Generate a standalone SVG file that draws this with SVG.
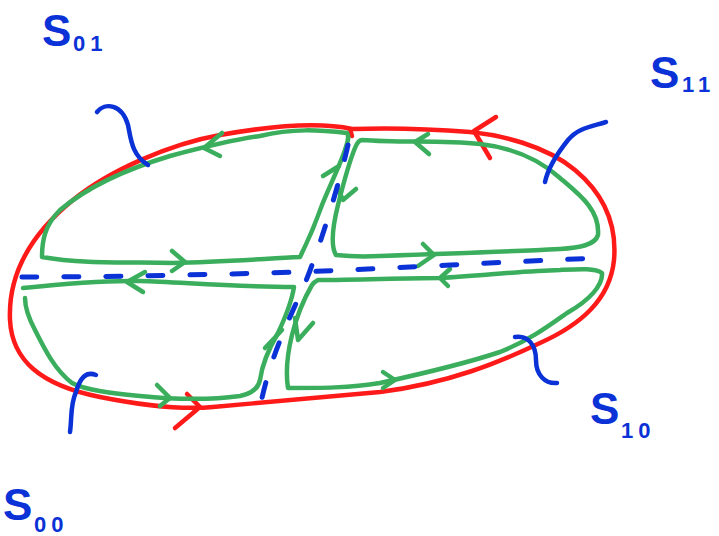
<svg xmlns="http://www.w3.org/2000/svg" width="719" height="536" viewBox="0 0 719 536">
<style>
.red{fill:none;stroke:#ff1a1a;stroke-width:4.5;stroke-linecap:round;stroke-linejoin:round}
.grn{fill:none;stroke:#3aae5c;stroke-width:4.5;stroke-linecap:round;stroke-linejoin:round}
.blu{fill:none;stroke:#0a32d6;stroke-width:4.5;stroke-linecap:round;stroke-linejoin:round}
.dash{fill:none;stroke:#0a32d6;stroke-width:5;stroke-linecap:round;stroke-dasharray:15 27}
.big{font-family:"Liberation Sans",Arial,sans-serif;font-size:44px;font-weight:bold;fill:#0a32d6}
.sub{font-family:"Liberation Sans",Arial,sans-serif;font-size:22px;font-weight:bold;fill:#0a32d6;letter-spacing:5px}
</style>
<rect width="719" height="536" fill="#ffffff"/>
<g id="boundary">
<path class="red" d="M352,129 C320,122 270,126 220,135 C170,144 110,170 73,200 C30,235 8,275 10,320 C12,360 40,385 100,397 C140,405 180,410 213,407 C270,402 330,396 380,392 C450,383 500,362 540,343 C580,325 610,300 614,260 C617,225 605,195 575,170 C545,145 500,135 470,132 C420,128 380,128 352,129 Z"/>
<path class="red" d="M350,129 L352,136"/>
<polyline class="red" points="496,117 474,131 490,158"/>
<polyline class="red" points="187,394 200,407 175,428"/>
</g>
<g id="region-s01">
<path class="grn" d="M347,133 C320,130 293,128 260,136 C230,140 200,148 170,156 C130,168 90,185 60,210 C45,225 42,240 42,257 C80,264 130,262 173,263 C220,262 260,259 300,257 C306,245 315,225 322,205 C330,185 340,165 345,150 C347,143 350,137 347,133"/>
<polyline class="grn" points="222,133 204,148 220,156"/>
<polyline class="grn" points="172,251 185,262 172,271"/>
<polyline class="grn" points="323,176 339,166"/>
</g>
<g id="region-s11">
<path class="grn" d="M362,140 C400,143 440,140 480,144 C515,148 540,160 560,178 C580,195 600,210 598,235 C595,245 580,248 560,249 C500,252 440,254 380,256 C360,257 345,256 336,255 C330,245 333,225 338,205 C343,185 350,160 355,148 C357,143 359,140 362,140"/>
<polyline class="grn" points="428,134 415,142 429,154"/>
<polyline class="grn" points="423,244 434,255 418,266"/>
<polyline class="grn" points="337,187 343,200 356,189"/>
</g>
<g id="region-s00">
<path class="grn" d="M23,288 C60,284 100,280 140,281 C180,282 230,287 294,287 C292,300 285,318 278,333 C268,350 262,365 260,380 C258,390 250,394 240,396 C210,400 180,400 140,396 C110,393 85,390 72,383 C55,370 45,350 35,330 C27,315 25,305 25,298"/>
<polyline class="grn" points="145,272 127,282 143,292"/>
<polyline class="grn" points="157,385 170,398 160,406"/>
<polyline class="grn" points="265,348 282,330"/>
</g>
<g id="region-s10">
<path class="grn" d="M318,280 C360,280 400,278 440,278 C480,276 520,271 560,270 C580,269 595,268 602,273 C603,285 590,300 567,313 C550,325 530,340 500,352 C470,362 430,372 380,383 C350,388 320,388 288,388 C286,375 287,355 292,335 C297,315 305,297 312,285 C314,282 316,281 318,280"/>
<polyline class="grn" points="450,269 440,278 448,286"/>
<polyline class="grn" points="383,372 395,380 383,388"/>
<polyline class="grn" points="295,318 298,340 313,323"/>
</g>
<g id="connectors">
<path class="dash" d="M22,277 C100,277 200,275 300,272 C400,268 500,262 600,258"/>
<path class="dash" d="M348,145 C340,180 325,230 312,265 C300,300 275,340 262,398"/>
<path class="blu" d="M97,112 C105,102 122,104 128,125 C131,140 132,155 148,165"/>
<path class="blu" d="M606,122 C590,127 578,128 568,140 C556,155 548,168 545,182"/>
<path class="blu" d="M515,337 C528,335 536,345 536,360 C536,375 545,384 557,383"/>
<path class="blu" d="M96,375 C86,371 80,378 76,392 C70,405 72,418 70,432"/>
</g>
<g id="label-s01"><text class="big" x="42" y="46">S</text><text class="sub" x="73" y="51">01</text></g>
<g id="label-s11"><text class="big" x="650" y="88">S</text><text class="sub" x="682" y="92">11</text></g>
<g id="label-s10"><text class="big" x="590" y="424">S</text><text class="sub" x="621" y="438">10</text></g>
<g id="label-s00"><text class="big" x="3" y="520">S</text><text class="sub" x="34" y="532">00</text></g>
</svg>
